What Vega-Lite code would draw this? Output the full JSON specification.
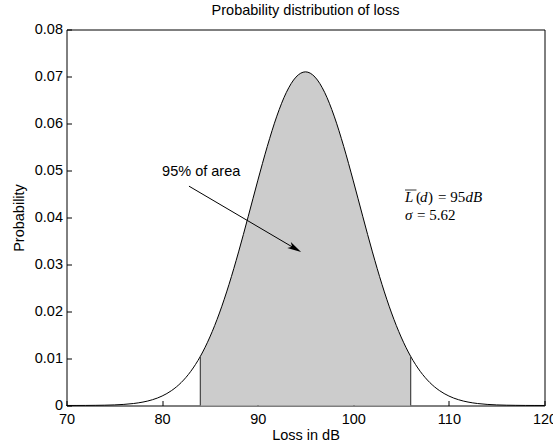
{
  "$schema": "https://vega.github.io/schema/vega-lite/v6.json",
  "width": 478,
  "height": 376,
  "autosize": {"type": "none"},
  "padding": {"left": 66.5, "top": 29.5, "right": 8.5, "bottom": 39.5},
  "background": "white",
  "title": {"text": "Probability distribution of loss", "font": "Liberation Sans", "fontSize": 14.5, "fontWeight": "normal", "color": "black", "offset": 3},
  "config": {
    "view": {"stroke": "black", "strokeWidth": 1},
    "axis": {
      "domain": false, "grid": false,
      "tickColor": "black", "tickSize": -5, "tickWidth": 1,
      "labelFont": "Liberation Sans", "labelFontSize": 14.5, "labelColor": "black",
      "titleFont": "Liberation Sans", "titleFontSize": 14.5, "titleFontWeight": "normal", "titleColor": "black"
    }
  },
  "datasets": {
    "curve": [
      {"x": 70, "p": 0.0000036}, {"x": 71, "p": 0.0000078}, {"x": 72, "p": 0.0000164}, {"x": 73, "p": 0.0000334},
      {"x": 74, "p": 0.000066}, {"x": 75, "p": 0.000126}, {"x": 76, "p": 0.000234}, {"x": 77, "p": 0.000421},
      {"x": 78, "p": 0.000732}, {"x": 79, "p": 0.001234}, {"x": 80, "p": 0.002015}, {"x": 81, "p": 0.00319},
      {"x": 82, "p": 0.00489}, {"x": 83, "p": 0.007264}, {"x": 84, "p": 0.01045}, {"x": 85, "p": 0.01458},
      {"x": 86, "p": 0.01969}, {"x": 87, "p": 0.02577}, {"x": 88, "p": 0.03268}, {"x": 89, "p": 0.04015},
      {"x": 90, "p": 0.04779}, {"x": 91, "p": 0.0551}, {"x": 92, "p": 0.06156}, {"x": 93, "p": 0.06663},
      {"x": 94, "p": 0.06987}, {"x": 95, "p": 0.07099}, {"x": 96, "p": 0.06987}, {"x": 97, "p": 0.06663},
      {"x": 98, "p": 0.06156}, {"x": 99, "p": 0.0551}, {"x": 100, "p": 0.04779}, {"x": 101, "p": 0.04015},
      {"x": 102, "p": 0.03268}, {"x": 103, "p": 0.02577}, {"x": 104, "p": 0.01969}, {"x": 105, "p": 0.01458},
      {"x": 106, "p": 0.01045}, {"x": 107, "p": 0.007264}, {"x": 108, "p": 0.00489}, {"x": 109, "p": 0.00319},
      {"x": 110, "p": 0.002015}, {"x": 111, "p": 0.001234}, {"x": 112, "p": 0.000732}, {"x": 113, "p": 0.000421},
      {"x": 114, "p": 0.000234}, {"x": 115, "p": 0.000126}, {"x": 116, "p": 0.000066}, {"x": 117, "p": 0.0000334},
      {"x": 118, "p": 0.0000164}, {"x": 119, "p": 0.0000078}, {"x": 120, "p": 0.0000036}
    ],
    "xticks": [{"x": 80}, {"x": 90}, {"x": 100}, {"x": 110}],
    "yticks": [{"p": 0.01}, {"p": 0.02}, {"p": 0.03}, {"p": 0.04}, {"p": 0.05}, {"p": 0.06}, {"p": 0.07}],
    "arrow": [{"x": 82.81, "p": 0.04667, "x2": 93.91, "p2": 0.03339}],
    "head": [{"x": 93.91, "p": 0.03339}],
    "note": [{"x": 80.0, "p": 0.0497, "label": "95% of area"}],
    "overline": [{"x": 105.41, "x2": 106.61, "p": 0.04585}],
    "mathItalic": [
      {"x": 105.41, "p": 0.04443, "label": "L"},
      {"x": 106.98, "p": 0.04443, "label": "d"},
      {"x": 111.74, "p": 0.04443, "label": "dB"},
      {"x": 105.41, "p": 0.04053, "label": "σ"}
    ],
    "mathUpright": [
      {"x": 106.56, "p": 0.04443, "label": "("},
      {"x": 107.82, "p": 0.04443, "label": ")"},
      {"x": 108.86, "p": 0.04443, "label": "= 95"},
      {"x": 106.67, "p": 0.04053, "label": "= 5.62"}
    ]
  },
  "encoding": {
    "x": {"field": "x", "type": "quantitative", "scale": {"domain": [70, 120], "nice": false, "zero": false},
          "axis": {"title": "Loss in dB", "values": [70, 80, 90, 100, 110, 120], "labelPadding": 12, "titlePadding": 2, "labelFlush": false}},
    "y": {"field": "p", "type": "quantitative", "scale": {"domain": [0, 0.08], "nice": false},
          "axis": {"title": "Probability", "values": [0, 0.01, 0.02, 0.03, 0.04, 0.05, 0.06, 0.07, 0.08], "labelExpr": "datum.value == 0 ? '0' : format(datum.value, '.2f')", "labelPadding": 9, "titlePadding": 8, "labelFlush": false}}
  },
  "layer": [
    {
      "data": {"name": "curve"},
      "transform": [{"filter": "datum.x >= 84 && datum.x <= 106"}],
      "mark": {"type": "area", "color": "#cccccc", "interpolate": "monotone"}
    },
    {
      "data": {"name": "curve"},
      "mark": {"type": "line", "color": "black", "strokeWidth": 1, "interpolate": "monotone"}
    },
    {
      "data": {"name": "curve"},
      "transform": [{"filter": "datum.x == 84 || datum.x == 106"}],
      "mark": {"type": "rule", "color": "#444444", "strokeWidth": 1.2},
      "encoding": {
        "y": {"datum": 0, "type": "quantitative"},
        "y2": {"field": "p"}
      }
    },
    {
      "data": {"name": "xticks"},
      "mark": {"type": "rule", "color": "black", "strokeWidth": 1},
      "encoding": {
        "y": {"datum": 0.08, "type": "quantitative"},
        "y2": {"datum": 0.07894}
      }
    },
    {
      "data": {"name": "yticks"},
      "mark": {"type": "rule", "color": "black", "strokeWidth": 1},
      "encoding": {
        "x": {"datum": 120, "type": "quantitative"},
        "x2": {"datum": 119.476}
      }
    },
    {
      "data": {"name": "arrow"},
      "mark": {"type": "rule", "color": "black", "strokeWidth": 1},
      "encoding": {
        "x2": {"field": "x2"},
        "y2": {"field": "p2"}
      }
    },
    {
      "data": {"name": "head"},
      "mark": {"type": "point", "shape": "M1,0 L-1,-0.5 L-0.5,0 L-1,0.5 Z", "filled": true, "color": "black", "opacity": 1, "size": 196, "angle": 30.5}
    },
    {
      "data": {"name": "note"},
      "mark": {"type": "text", "align": "left", "baseline": "middle", "font": "Liberation Sans", "fontSize": 14.5, "color": "black"},
      "encoding": {"text": {"field": "label"}}
    },
    {
      "data": {"name": "overline"},
      "mark": {"type": "rule", "color": "black", "strokeWidth": 0.8},
      "encoding": {"x2": {"field": "x2"}}
    },
    {
      "data": {"name": "mathItalic"},
      "mark": {"type": "text", "align": "left", "baseline": "middle", "font": "Liberation Serif", "fontStyle": "italic", "fontSize": 15, "color": "black"},
      "encoding": {"text": {"field": "label"}}
    },
    {
      "data": {"name": "mathUpright"},
      "mark": {"type": "text", "align": "left", "baseline": "middle", "font": "Liberation Serif", "fontSize": 15, "color": "black"},
      "encoding": {"text": {"field": "label"}}
    }
  ]
}
